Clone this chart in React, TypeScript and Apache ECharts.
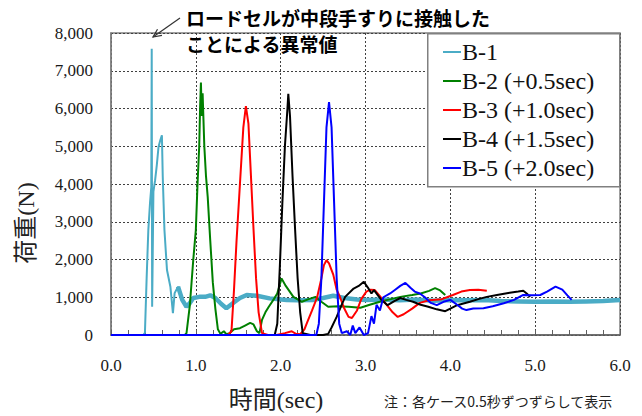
import React, { useEffect, useRef } from "react";
import * as echarts from "echarts";

const seriesNames = ["B-1", "B-2 (+0.5sec)", "B-3 (+1.0sec)", "B-4 (+1.5sec)", "B-5 (+2.0sec)"];
const seriesColors = ["#4bacc6", "#008000", "#ff0000", "#000000", "#0000ff"];

const b1: [number, number][] = [
  [0, 0], [0.2, 0], [0.38, 0], [0.4, 60], [0.42, 1500], [0.44, 2780], [0.46, 3500], [0.475, 3920],
  [0.48, 7580], [0.485, 750], [0.5, 3800], [0.52, 4100], [0.54, 4500], [0.56, 4980], [0.58, 5150],
  [0.6, 5290], [0.61, 4200], [0.63, 2780], [0.66, 1720], [0.7, 1280], [0.73, 580], [0.75, 1110],
  [0.79, 1280], [0.84, 930], [0.89, 750], [0.93, 850], [0.97, 980], [1.04, 1010], [1.11, 1010],
  [1.17, 1050], [1.23, 980], [1.3, 820], [1.36, 710], [1.44, 850], [1.52, 980], [1.6, 1060],
  [1.72, 1040], [1.87, 970], [2.07, 930], [2.2, 920], [2.39, 930], [2.5, 980], [2.62, 1040],
  [2.75, 980], [2.9, 940], [3.0, 930], [3.2, 940], [3.4, 920], [3.6, 940], [3.8, 910], [4.0, 930],
  [4.2, 920], [4.4, 930], [4.6, 900], [4.8, 890], [5.0, 880], [5.2, 890], [5.4, 880], [5.6, 890],
  [5.8, 900], [6.0, 930]
];

const b2: [number, number][] = [
  [0, 0], [0.5, 0], [0.87, 0], [0.89, 50], [0.93, 800], [0.97, 2000], [1.0, 2780], [1.02, 4000],
  [1.04, 5000], [1.05, 6000], [1.06, 6690], [1.07, 5800], [1.08, 6400], [1.1, 5000], [1.12, 4200],
  [1.14, 3660], [1.17, 2500], [1.2, 1400], [1.23, 700], [1.26, 150], [1.29, 30], [1.33, 100],
  [1.36, 20], [1.4, 50], [1.45, 150], [1.52, 180], [1.58, 250], [1.64, 320], [1.68, 280], [1.72, 100],
  [1.75, 50], [1.78, 400], [1.82, 600], [1.86, 750], [1.92, 950], [1.96, 1100], [2.01, 1500],
  [2.06, 1300], [2.15, 1010], [2.25, 880], [2.33, 950], [2.41, 1010], [2.48, 880], [2.56, 750],
  [2.68, 760], [2.8, 750], [2.94, 720], [3.05, 800], [3.2, 900], [3.3, 950], [3.41, 1010],
  [3.55, 1060], [3.65, 1100], [3.75, 1170], [3.82, 1240], [3.88, 1180], [3.94, 1060]
];

const b3: [number, number][] = [
  [0, 0], [1.0, 0], [1.38, 0], [1.42, 100], [1.45, 1200], [1.48, 2500], [1.52, 4000], [1.56, 5500],
  [1.59, 6060], [1.62, 5600], [1.65, 4200], [1.68, 2800], [1.71, 1500], [1.74, 600], [1.78, 50],
  [1.85, 0], [1.95, 0], [2.05, 50], [2.13, 100], [2.18, 30], [2.23, 20], [2.28, 150], [2.31, 320],
  [2.37, 650], [2.43, 1000], [2.48, 1500], [2.51, 1850], [2.54, 1980], [2.57, 1900], [2.62, 1600],
  [2.66, 1200], [2.7, 1000], [2.75, 700], [2.8, 480], [2.84, 450], [2.9, 650], [2.95, 950],
  [3.01, 1150], [3.06, 1200], [3.11, 1190], [3.18, 1000], [3.25, 800], [3.32, 600], [3.38, 480],
  [3.45, 550], [3.55, 700], [3.64, 850], [3.75, 920], [3.9, 950], [4.03, 1060], [4.13, 1150],
  [4.23, 1190], [4.33, 1200], [4.43, 1170]
];

const b4: [number, number][] = [
  [0, 0], [1.5, 0], [1.93, 0], [1.96, 300], [1.99, 1800], [2.02, 3500], [2.05, 5000], [2.08, 6000],
  [2.09, 6390], [2.11, 5800], [2.14, 4200], [2.17, 2800], [2.2, 1500], [2.23, 600], [2.26, 50],
  [2.35, 0], [2.5, 0], [2.56, 30], [2.6, 200], [2.66, 480], [2.71, 750], [2.76, 1010], [2.86, 1230],
  [2.92, 1300], [2.98, 1410], [3.03, 1250], [3.07, 1100], [3.1, 1190], [3.18, 950], [3.26, 790],
  [3.34, 900], [3.41, 980], [3.48, 930], [3.56, 880], [3.65, 800], [3.74, 750], [3.84, 680],
  [3.94, 630], [4.0, 700], [4.08, 790], [4.23, 880], [4.33, 950], [4.43, 1010], [4.55, 1060],
  [4.7, 1120], [4.8, 1150], [4.86, 1170], [4.9, 1100], [4.94, 1010]
];

const b5: [number, number][] = [
  [0, 0], [2.0, 0], [2.42, 0], [2.45, 300], [2.48, 1500], [2.51, 3500], [2.54, 5500], [2.57, 6170],
  [2.6, 5500], [2.63, 3500], [2.66, 1500], [2.69, 300], [2.72, 50], [2.78, 100], [2.82, 0],
  [2.85, 250], [2.88, 50], [2.93, 200], [2.98, 0], [3.03, 50], [3.07, 500], [3.1, 300], [3.13, 800],
  [3.17, 650], [3.21, 1000], [3.29, 1100], [3.35, 1200], [3.41, 1300], [3.47, 1380], [3.53, 1250],
  [3.58, 1150], [3.64, 1100], [3.7, 1000], [3.77, 850], [3.84, 790], [3.92, 880], [4.0, 930],
  [4.08, 800], [4.14, 700], [4.19, 660], [4.27, 700], [4.39, 710], [4.5, 760], [4.63, 840],
  [4.75, 930], [4.86, 1060], [4.96, 1050], [5.06, 1060], [5.14, 1150], [5.24, 1280], [5.32, 1200],
  [5.38, 1050], [5.43, 930]
];

const seriesData = [b1, b2, b3, b4, b5];

const annotationLines = ["ロードセルが中段手すりに接触した", "ことによる異常値"];
const yAxisTitle = "荷重(N)";
const xAxisTitle = "時間(sec)";
const noteText = "注：各ケース0.5秒ずつずらして表示";

export default function App() {
  const ref = useRef<HTMLDivElement>(null);
  useEffect(() => {
    if (!ref.current) return;
    const chart = echarts.init(ref.current, undefined, { renderer: "svg" });
    const serif = "Liberation Serif";
    const cjk = "Noto Sans CJK JP";
    const series: any[] = seriesNames.map((name, i) => ({
      name,
      type: "line",
      data: seriesData[i],
      showSymbol: false,
      symbol: "none",
      color: seriesColors[i],
      lineStyle: { color: seriesColors[i], width: 2 },
      z: 3 + i,
    }));
    // thicker noisy band of B-1 after the impact
    series.splice(1, 0, {
      name: "B-1 band",
      type: "line",
      data: b1.filter((p) => p[0] >= 0.76),
      showSymbol: false,
      symbol: "none",
      color: seriesColors[0],
      lineStyle: { color: seriesColors[0], width: 4.5 },
      z: 2,
      silent: true,
    });
    const labelRich = { s: { fontFamily: serif, fontSize: 17, color: "#1a1a1a" } };
    const option: any = {
      animation: false,
      backgroundColor: "#ffffff",
      textStyle: { fontFamily: serif },
      grid: {
        left: 111,
        right: 22,
        top: 33,
        bottom: 81,
        show: true,
        borderColor: "#808080",
        borderWidth: 1.5,
      },
      xAxis: {
        type: "value",
        min: 0,
        max: 6,
        interval: 1,
        axisLine: { show: true, lineStyle: { color: "#606060", width: 1.5 } },
        axisTick: { show: true, inside: true, length: 5, lineStyle: { color: "#606060" } },
        minorTick: { show: true, splitNumber: 5, length: 5, lineStyle: { color: "#606060" } },
        splitLine: { show: true, lineStyle: { color: "#404040", type: [2, 2], width: 1 } },
        axisLabel: {
          formatter: (v: number) => `{s|${v.toFixed(1)}}`,
          rich: labelRich,
          fontFamily: serif,
          fontSize: 17,
          color: "#1a1a1a",
          margin: 22,
        },
      },
      yAxis: {
        type: "value",
        min: 0,
        max: 8000,
        interval: 1000,
        axisLine: { show: true, lineStyle: { color: "#808080", width: 1.5 } },
        axisTick: { show: false },
        splitLine: { show: true, lineStyle: { color: "#404040", type: [2, 2], width: 1 } },
        axisLabel: {
          formatter: (v: number) => `{s|${v.toLocaleString("en-US")}}`,
          rich: labelRich,
          fontFamily: serif,
          fontSize: 17,
          color: "#1a1a1a",
          margin: 18,
        },
      },
      legend: {
        show: true,
        z: 20,
        orient: "vertical",
        left: 443,
        top: 40,
        padding: 0,
        itemGap: 5,
        itemWidth: 18,
        itemHeight: 2,
        icon: "rect",
        textStyle: { fontFamily: serif, fontSize: 24, color: "#111", lineHeight: 24, padding: [0, 0, 0, -4] },
        data: seriesNames,
      },
      graphic: [
        {
          type: "rect",
          left: 427,
          top: 33,
          z: 1,
          shape: { width: 192, height: 153 },
          style: { fill: "#ffffff", stroke: "#808080", lineWidth: 1.5 },
        },
        {
          type: "text",
          x: 186,
          y: 17,
          z: 100,
          style: {
            text: annotationLines[0],
            font: `bold 19px '${cjk}'`,
            fill: "#000",
            textVerticalAlign: "middle",
          },
        },
        {
          type: "text",
          x: 186,
          y: 43,
          z: 100,
          style: {
            text: annotationLines[1],
            font: `bold 19px '${cjk}'`,
            fill: "#000",
            textVerticalAlign: "middle",
          },
        },
        {
          type: "line",
          z: 100,
          shape: { x1: 180, y1: 18, x2: 153, y2: 37 },
          style: { stroke: "#333", lineWidth: 1.2 },
        },
        {
          type: "polyline",
          z: 100,
          shape: { points: [[162, 35.4], [153, 37], [157.5, 29.2]] },
          style: { stroke: "#333", lineWidth: 1.2, fill: null },
        },
        {
          type: "text",
          x: 26,
          y: 223,
          rotation: Math.PI / 2,
          z: 100,
          style: {
            text: yAxisTitle,
            font: `24px '${serif}', '${cjk}'`,
            fill: "#222",
            textAlign: "center",
            textVerticalAlign: "middle",
          },
        },
        {
          type: "text",
          x: 276,
          y: 400,
          z: 100,
          style: {
            text: xAxisTitle,
            font: `24px '${serif}', '${cjk}'`,
            fill: "#222",
            textAlign: "center",
            textVerticalAlign: "middle",
          },
        },
        {
          type: "text",
          x: 384,
          y: 401,
          z: 100,
          style: {
            text: noteText,
            font: `14px '${cjk}'`,
            fill: "#222",
            textVerticalAlign: "middle",
          },
        },
      ],
      series,
    };
    chart.setOption(option);
    return () => chart.dispose();
  }, []);
  return (
    <div
      ref={ref}
      style={{ position: "fixed", left: 0, top: 0, width: 642, height: 416, background: "#fff" }}
    />
  );
}
